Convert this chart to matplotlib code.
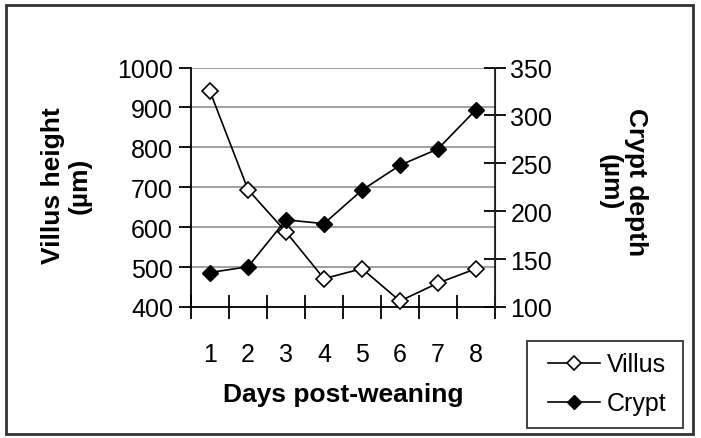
import matplotlib
matplotlib.use("Agg")
import matplotlib.pyplot as plt
from matplotlib.patches import Rectangle
from matplotlib.lines import Line2D

days = [1, 2, 3, 4, 5, 6, 7, 8]
villus = [940, 694, 588, 471, 496, 415, 460, 496]
crypt = [136, 142, 191, 187, 222, 248, 265, 306]
left_ticks = [400, 500, 600, 700, 800, 900, 1000]
right_ticks = [100, 150, 200, 250, 300, 350]

plt.rcParams['font.family'] = ['Liberation Sans', 'DejaVu Sans']

fig = plt.figure(figsize=(7.01, 4.39), dpi=100)
W, H = 701, 439

def fx(px):
    return px / W

def fy(py):
    return 1 - py / H

# outer border
fig.patches.append(Rectangle((fx(6), fy(435)), fx(693) - fx(6), fy(6) - fy(435),
                             transform=fig.transFigure, fill=False,
                             edgecolor='#333333', linewidth=2.0))

ax = fig.add_axes([fx(191), fy(308), fx(495) - fx(191), fy(68.5) - fy(308)])
ax2 = ax.twinx()

ax.set_xlim(0.5, 8.5)
ax.set_ylim(400, 1000)
ax2.set_ylim(100, 350)

for y in left_ticks[1:]:
    ax.axhline(y, color='#999999', linewidth=1.3, zorder=0)

ax.spines['top'].set_visible(False)
ax2.spines['top'].set_visible(False)
for s in ['left', 'bottom']:
    ax.spines[s].set_color('black')
    ax.spines[s].set_linewidth(1.3)
ax2.spines['right'].set_color('#222222')
ax2.spines['right'].set_linewidth(1.3)
ax2.spines['left'].set_visible(False)
ax2.spines['bottom'].set_visible(False)

ax.set_yticks(left_ticks)
ax.tick_params(axis='y', direction='out', length=9, width=1.3, labelsize=18, pad=4)
ax2.set_yticks(right_ticks)
ax2.tick_params(axis='y', direction='inout', length=16, width=1.3, labelsize=18, pad=3)

ax.set_xticks(days)
ax.set_xticklabels([str(d) for d in days])
ax.tick_params(axis='x', which='major', length=0, labelsize=18, pad=25)
ax.set_xticks([d + 0.5 for d in [0] + days], minor=True)
ax.tick_params(axis='x', which='minor', direction='inout', length=17, width=1.3)

ax.plot(days, villus, color='black', linewidth=1.2, marker='D', markersize=8,
        markerfacecolor='white', markeredgecolor='black', markeredgewidth=1.2,
        zorder=3, clip_on=False)
ax2.plot(days, crypt, color='black', linewidth=1.2, marker='D', markersize=8,
         markerfacecolor='black', markeredgecolor='black', zorder=3, clip_on=False)

ax.set_xlabel('Days post-weaning', fontsize=19, fontweight='bold', labelpad=12)
fig.text(fx(66), fy(186), 'Villus height\n(µm)', rotation=90, fontsize=19,
         fontweight='bold', ha='center', va='center', linespacing=1.15)
fig.text(fx(623), fy(182), 'Crypt depth\n(µm)', rotation=-90, fontsize=19,
         fontweight='bold', ha='center', va='center', linespacing=1.15)

# legend
fig.patches.append(Rectangle((fx(527), fy(429)), fx(683) - fx(527), fy(342) - fy(429),
                             transform=fig.transFigure, fill=False,
                             edgecolor='#333333', linewidth=1.3))
h1 = Line2D([], [], color='black', linewidth=1.2, marker='D', markersize=7,
            markerfacecolor='white', markeredgecolor='black', markeredgewidth=1.2)
h2 = Line2D([], [], color='black', linewidth=1.2, marker='D', markersize=7,
            markerfacecolor='black', markeredgecolor='black')
leg = fig.legend([h1, h2], ['Villus', 'Crypt'], loc='center',
                 bbox_to_anchor=(fx(607), fy(385)), frameon=False, fontsize=18,
                 handlelength=2.1, handletextpad=0.25, labelspacing=0.6,
                 borderpad=0.2)

fig.savefig('out.png', dpi=100)
